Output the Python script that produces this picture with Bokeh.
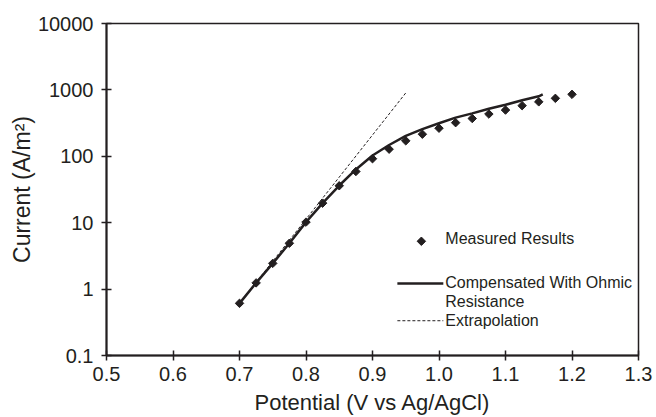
import numpy as np
from bokeh.plotting import figure
from bokeh.models import FixedTicker, CustomJSTickFormatter, Label, Range1d
from bokeh.embed import file_html
from bokeh.resources import INLINE

# ---- data ----
potential = [0.700, 0.725, 0.750, 0.775, 0.800, 0.825, 0.850, 0.875, 0.900, 0.925,
             0.950, 0.975, 1.000, 1.025, 1.050, 1.075, 1.100, 1.125, 1.150, 1.175, 1.200]
measured = [0.61, 1.24, 2.44, 4.9, 10.2, 19.7, 36, 59, 92, 128,
            171, 215, 265, 321, 371, 433, 497, 579, 661, 746, 857]

comp_potential = [0.700, 0.725, 0.750, 0.775, 0.800, 0.825, 0.850, 0.875, 0.900, 0.925,
                  0.950, 0.975, 1.000, 1.025, 1.050, 1.075, 1.100, 1.125, 1.150, 1.156]
comp_current = [0.61, 1.24, 2.44, 4.9, 10.2, 19.7, 36.3, 63.4, 103, 148,
                203, 256, 315, 382, 443, 519, 596, 697, 800, 857]

extrap_potential = [0.700, 0.950]
extrap_current = [0.61, 900]

x_ticks = [0.5, 0.6, 0.7, 0.8, 0.9, 1.0, 1.1, 1.2, 1.3]
x_tick_labels = ["0.5", "0.6", "0.7", "0.8", "0.9", "1.0", "1.1", "1.2", "1.3"]
y_ticks = [0.1, 1, 10, 100, 1000, 10000]
y_tick_labels = ["0.1", "1", "10", "100", "1000", "10000"]

legend_labels = ["Measured Results", "Compensated With Ohmic", "Resistance", "Extrapolation"]

INK = "#231f20"
FONT = "Liberation Sans"

p = figure(width=656, height=417, x_range=Range1d(0.5, 1.3), y_range=Range1d(0.1, 10000),
           y_axis_type="log", output_backend="svg", toolbar_location=None,
           min_border_left=106, min_border_right=18, min_border_top=23, min_border_bottom=62)
p.xgrid.visible = False
p.ygrid.visible = False
p.outline_line_color = INK
p.outline_line_width = 1.5
p.background_fill_color = "white"
p.border_fill_color = "white"

code = ("for (let i = 0; i < tv.length; i++) {"
        "  if (Math.abs(tv[i] - tick) <= 1e-9 * Math.max(1, Math.abs(tv[i]))) return tl[i];"
        "} return '';")
p.xaxis.ticker = FixedTicker(ticks=x_ticks)
p.xaxis.formatter = CustomJSTickFormatter(args=dict(tv=x_ticks, tl=x_tick_labels), code=code)
p.yaxis.ticker = FixedTicker(ticks=y_ticks)
p.yaxis.formatter = CustomJSTickFormatter(args=dict(tv=y_ticks, tl=y_tick_labels), code=code)

for ax in (p.xaxis, p.yaxis):
    ax.axis_line_color = INK
    ax.axis_line_width = 2
    ax.major_tick_line_color = INK
    ax.major_tick_line_width = 1.5
    ax.major_tick_in = 5
    ax.major_tick_out = 5
    ax.minor_tick_line_color = None
    ax.major_label_text_font = FONT
    ax.major_label_text_font_size = "20px"
    ax.major_label_text_color = INK
    ax.axis_label_text_font = FONT
    ax.axis_label_text_font_style = "normal"
    ax.axis_label_text_color = INK

p.xaxis.axis_label = "Potential (V vs Ag/AgCl)"
p.xaxis.axis_label_text_font_size = "22px"
p.xaxis.major_label_standoff = 6
p.xaxis.axis_label_standoff = 6
p.yaxis.axis_label = "Current (A/m\u00b2)"
p.yaxis.axis_label_text_font_size = "23px"
p.yaxis.major_label_standoff = 8
p.yaxis.axis_label_standoff = 0

# series
p.line(comp_potential, comp_current, line_width=2.5, color=INK)
p.line(extrap_potential, extrap_current, line_width=1, line_dash="3 2", color=INK)
p.scatter(potential, measured, marker="square", size=6, angle=np.pi / 4, color=INK)

# legend (hand-built)
p.scatter([0.9735], [5.25], marker="square", size=6, angle=np.pi / 4, color=INK)
p.line([0.9374, 1.0065], [1.21, 1.21], line_width=2.5, color=INK)
p.line([0.9374, 1.0065], [0.334, 0.334], line_width=1, line_dash="3 2", color=INK)
for lbl, yy in zip(legend_labels, [5.76, 1.26, 0.645, 0.334]):
    p.add_layout(Label(x=1.0095, y=yy, text=lbl, text_font=FONT, text_font_size="16px",
                       text_color=INK, text_baseline="middle", text_align="left"))

open("out.html", "w").write(file_html(p, INLINE))
